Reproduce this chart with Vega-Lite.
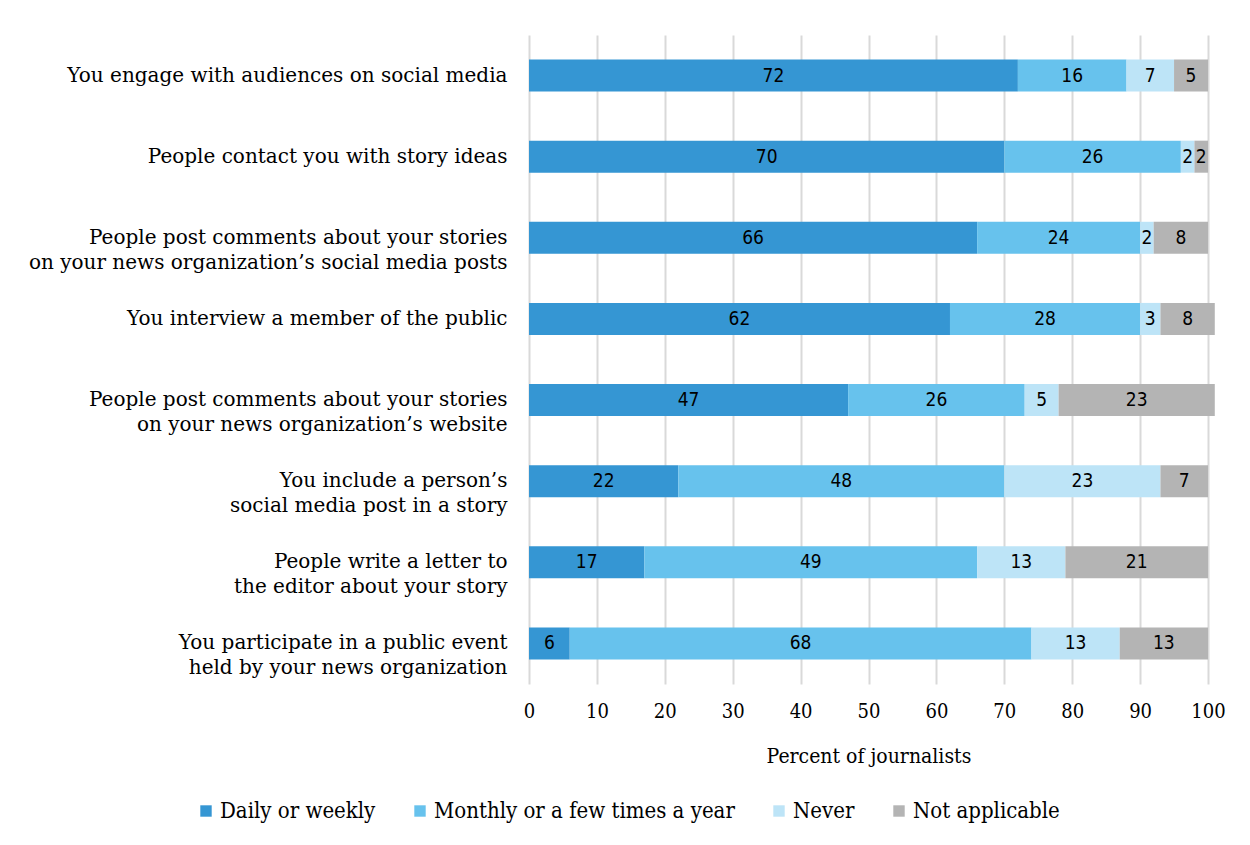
{
  "$schema": "https://vega.github.io/schema/vega-lite/v6.json",
  "width": 679,
  "height": 649,
  "autosize": {"type": "none"},
  "padding": {"left": 529, "top": 35, "right": 42, "bottom": 161},
  "background": "white",
  "config": {"view": {"stroke": null}, "font": "DejaVu Serif"},
  "data": {"values": [
    {"item": "You engage with audiences on social media", "type": "Daily or weekly", "value": 72},
    {"item": "You engage with audiences on social media", "type": "Monthly or a few times a year", "value": 16},
    {"item": "You engage with audiences on social media", "type": "Never", "value": 7},
    {"item": "You engage with audiences on social media", "type": "Not applicable", "value": 5},
    {"item": "People contact you with story ideas", "type": "Daily or weekly", "value": 70},
    {"item": "People contact you with story ideas", "type": "Monthly or a few times a year", "value": 26},
    {"item": "People contact you with story ideas", "type": "Never", "value": 2},
    {"item": "People contact you with story ideas", "type": "Not applicable", "value": 2},
    {"item": "People post comments about your stories|on your news organization’s social media posts", "type": "Daily or weekly", "value": 66},
    {"item": "People post comments about your stories|on your news organization’s social media posts", "type": "Monthly or a few times a year", "value": 24},
    {"item": "People post comments about your stories|on your news organization’s social media posts", "type": "Never", "value": 2},
    {"item": "People post comments about your stories|on your news organization’s social media posts", "type": "Not applicable", "value": 8},
    {"item": "You interview a member of the public", "type": "Daily or weekly", "value": 62},
    {"item": "You interview a member of the public", "type": "Monthly or a few times a year", "value": 28},
    {"item": "You interview a member of the public", "type": "Never", "value": 3},
    {"item": "You interview a member of the public", "type": "Not applicable", "value": 8},
    {"item": "People post comments about your stories|on your news organization’s website", "type": "Daily or weekly", "value": 47},
    {"item": "People post comments about your stories|on your news organization’s website", "type": "Monthly or a few times a year", "value": 26},
    {"item": "People post comments about your stories|on your news organization’s website", "type": "Never", "value": 5},
    {"item": "People post comments about your stories|on your news organization’s website", "type": "Not applicable", "value": 23},
    {"item": "You include a person’s|social media post in a story", "type": "Daily or weekly", "value": 22},
    {"item": "You include a person’s|social media post in a story", "type": "Monthly or a few times a year", "value": 48},
    {"item": "You include a person’s|social media post in a story", "type": "Never", "value": 23},
    {"item": "You include a person’s|social media post in a story", "type": "Not applicable", "value": 7},
    {"item": "People write a letter to|the editor about your story", "type": "Daily or weekly", "value": 17},
    {"item": "People write a letter to|the editor about your story", "type": "Monthly or a few times a year", "value": 49},
    {"item": "People write a letter to|the editor about your story", "type": "Never", "value": 13},
    {"item": "People write a letter to|the editor about your story", "type": "Not applicable", "value": 21},
    {"item": "You participate in a public event|held by your news organization", "type": "Daily or weekly", "value": 6},
    {"item": "You participate in a public event|held by your news organization", "type": "Monthly or a few times a year", "value": 68},
    {"item": "You participate in a public event|held by your news organization", "type": "Never", "value": 13},
    {"item": "You participate in a public event|held by your news organization", "type": "Not applicable", "value": 13}
  ]},
  "transform": [
    {"stack": "value", "groupby": ["item"], "sort": [{"field": "type", "order": "ascending"}], "as": ["v0", "v1"]},
    {"calculate": "(datum.v0 + datum.v1) / 2", "as": "mid"}
  ],
  "encoding": {
    "y": {
      "field": "item", "type": "nominal", "sort": null,
      "scale": {"paddingInner": 0.605, "paddingOuter": 0.3025},
      "axis": {
        "title": null, "domain": false, "ticks": false, "labelPadding": 22,
        "labelFontSize": 20, "labelColor": "#000000", "labelLimit": 600,
        "labelLineHeight": 25, "labelFont": "DejaVu Serif",
        "labelExpr": "split(datum.label, '|')"
      }
    }
  },
  "layer": [
    {
      "mark": {"type": "bar", "clip": false},
      "encoding": {
        "x": {
          "field": "v0", "type": "quantitative",
          "scale": {"domain": [0, 100], "nice": false},
          "axis": {
            "values": [0, 10, 20, 30, 40, 50, 60, 70, 80, 90, 100],
            "grid": true, "gridColor": "#d9d9d9", "gridWidth": 2,
            "domain": false, "ticks": false, "labelPadding": 17, "labelFlush": false,
            "labelFontSize": 20, "labelColor": "#000000", "labelFont": "DejaVu Serif Condensed",
            "title": "Percent of journalists", "titleFontSize": 21, "titleFontWeight": "normal",
            "titleColor": "#000000", "titlePadding": 24, "titleFont": "DejaVu Serif Condensed"
          }
        },
        "x2": {"field": "v1"},
        "color": {
          "field": "type", "type": "nominal",
          "scale": {
            "domain": ["Daily or weekly", "Monthly or a few times a year", "Never", "Not applicable"],
            "range": ["#3596d3", "#67c2ed", "#bde4f7", "#b4b4b4"]
          },
          "legend": {
            "title": null, "orient": "none", "legendX": -334, "legendY": 765,
            "direction": "horizontal", "columns": 4, "symbolType": "square",
            "symbolSize": 130, "symbolStrokeWidth": 0, "labelFontSize": 22,
            "labelColor": "#000000", "labelFont": "DejaVu Serif Condensed",
            "columnPadding": 33, "labelOffset": 3, "labelLimit": 500
          }
        }
      }
    },
    {
      "mark": {"type": "text", "font": "DejaVu Sans Condensed", "fontSize": 19, "color": "#000000"},
      "encoding": {
        "x": {"field": "mid", "type": "quantitative"},
        "text": {"field": "value", "type": "quantitative"}
      }
    }
  ]
}
